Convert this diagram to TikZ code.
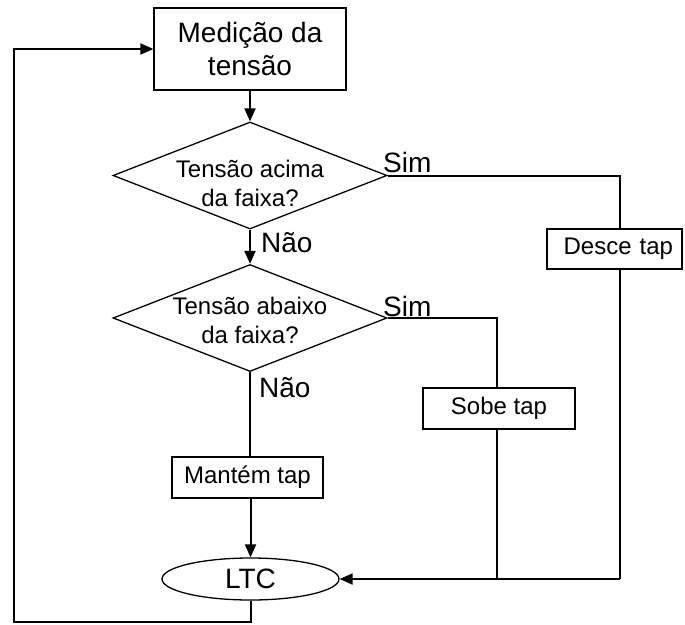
\documentclass[tikz,border=0pt]{standalone}
\usepackage{fontspec}
\setmainfont{Liberation Sans}
\usetikzlibrary{shapes.geometric,arrows.meta}
\begin{document}
\begin{tikzpicture}[x=1pt,y=-1pt,
  box/.style={draw,line width=1.3pt,inner sep=0pt,font=\fontsize{24}{29}\selectfont},
  dia/.style={draw,shape=diamond,line width=1.3pt,inner sep=0pt,minimum width=274pt,minimum height=107pt},
  ell/.style={draw,ellipse,line width=1.3pt,inner sep=0pt,minimum width=177pt,minimum height=42pt,font=\fontsize{28}{34}\selectfont},
  dtext/.style={align=center,inner sep=0pt,font=\fontsize{24}{29}\selectfont},
  lbl/.style={anchor=base west,inner sep=0pt,font=\fontsize{28}{34}\selectfont},
  conn/.style={line width=2pt},
  arr/.style={conn,-{Triangle[length=13pt,width=11pt]}},
]
\useasboundingbox (0,0) rectangle (685,624);
\node[box, minimum width=192pt, minimum height=82pt, align=center, font=\fontsize{28}{33.6}\selectfont] (med) at (250,49) {Medição da\\tensão};
\node[dia] (d1) at (250,175.5) {};
\node[dtext] (t1) at (250,183) {Tensão acima\\da faixa?};
\node[dia] (d2) at (250,318) {};
\node[dtext] (t2) at (250,320) {Tensão abaixo\\da faixa?};
\node[box, minimum width=135pt, minimum height=40pt, text width=117pt, align=right] (desce) at (614.5,249) {Desce tap};
\node[box, minimum width=152pt, minimum height=41pt] (sobe) at (499,408.5) {Sobe tap};
\node[box, minimum width=151pt, minimum height=41pt] (mant) at (247.5,477.5) {Mantém tap};
\node[ell] (ltc) at (250.5,579) {LTC};
\node[lbl] (sim1) at (383,172) {Sim};
\node[lbl] (sim2) at (383,316) {Sim};
\node[lbl] (nao1) at (261,252) {Não};
\node[lbl] (nao2) at (259,397) {Não};
\coordinate (r1) at (620,175.5);
\coordinate (r1b) at (620,579);
\coordinate (r2) at (497,318);
\coordinate (r2b) at (497,579);
\coordinate (lb) at (14,622);
\draw[arr] (med) -- (d1.north);
\draw[arr] (d1.south) -- (d2.north);
\draw[conn] (d1.east) -- (r1) -- (r1 |- desce.north);
\draw[conn] (r1 |- desce.south) -- (r1b);
\draw[conn] (d2.east) -- (r2) -- (r2 |- sobe.north);
\draw[conn] (r2 |- sobe.south) -- (r2b);
\draw[arr] (r1b) -- (ltc.east);
\draw[conn] (d2.south) -- (d2.south |- mant.north);
\draw[arr] (ltc |- mant.south) -- (ltc.north);
\draw[arr] (ltc.south) |- (lb) |- (med.west);
\end{tikzpicture}
\end{document}
